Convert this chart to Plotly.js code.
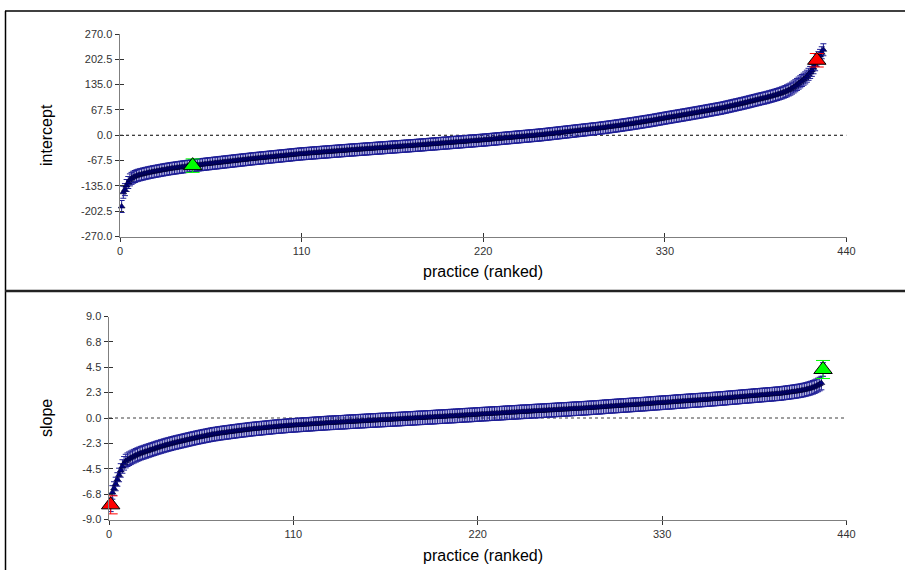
<!DOCTYPE html>
<html>
<head>
<meta charset="utf-8">
<script src="https://cdn.plot.ly/plotly-3.0.1.min.js"></script>
<style>
  html, body { margin: 0; padding: 0; background: #ffffff; }
  #chart { width: 905px; height: 570px; }
</style>
</head>
<body>
<div id="chart"></div>
<script>
// Ranked practice-level residuals (caterpillar plot), ranks 1..426.
const interceptResid = [
  -190, -152, -145, -134, -126, -119, -115, -112, -110, -108,
  -106.7, -105.5, -104.4, -103.3, -102.2, -101.2, -100.2, -99.2, -98.4, -97.5,
  -96.6, -95.8, -95.0, -94.2, -93.3, -92.6, -91.8, -91.0, -90.3, -89.5,
  -88.9, -88.2, -87.6, -87.0, -86.3, -85.7, -85.1, -84.5, -83.9, -83.3,
  -82.7, -82.2, -81.6, -81.0,
  -80.4, -80.1, -79.4, -79.0, -78.6, -77.9, -77.6, -77.0, -76.4, -76.1,
  -75.5, -75.1, -74.4, -74.0, -73.6, -73.0, -72.4, -72.1, -71.5, -71.0,
  -70.6, -69.9, -69.5, -69.1, -68.4, -68.0, -67.6, -66.9, -66.5, -66.0,
  -65.6, -65.0, -64.5, -64.1, -63.4, -63.0,
  -62.6, -62.1, -61.7, -61.2, -60.8, -60.3, -59.9, -59.4, -59.0, -58.5,
  -58.1, -57.7, -57.2, -56.8, -56.3, -55.9, -55.4, -55.0, -54.6, -54.1,
  -53.7, -53.2, -52.8, -52.3, -51.8, -51.4, -50.9, -50.5, -50.0,
  -49.7, -49.3, -49.0, -48.6, -48.3, -48.0, -47.6, -47.3, -46.9, -46.6,
  -46.3, -45.9, -45.6, -45.2, -44.9, -44.6, -44.2, -43.9, -43.5, -43.2,
  -42.9, -42.5, -42.2, -41.8, -41.5, -41.2, -40.8, -40.5, -40.2, -39.8, -39.5,
  -39.2, -38.9, -38.6, -38.2, -37.9, -37.6, -37.3, -37.0, -36.6, -36.3,
  -36.0, -35.7, -35.4, -35.1, -34.7, -34.4, -34.1, -33.8, -33.5, -33.1,
  -32.8, -32.5, -32.2, -31.9, -31.6, -31.2, -30.9, -30.6, -30.3, -30.0,
  -29.6, -29.3, -29.0, -28.7, -28.4, -28.0, -27.7, -27.4, -27.1, -26.8,
  -26.4, -26.1, -25.8, -25.5, -25.0,
  -24.7, -24.3, -24.0, -23.6, -23.3,
  -23.0, -22.6, -22.3, -21.9, -21.6, -21.2, -20.9, -20.6, -20.2, -19.9,
  -19.5, -19.2, -18.8, -18.5, -18.2, -17.8, -17.5, -17.1, -16.8, -16.4,
  -16.1, -15.8, -15.4, -15.1, -14.7, -14.4, -14.0, -13.7, -13.3, -13.0,
  -12.6, -12.2, -11.8, -11.4, -11.0, -10.6, -10.2, -9.8, -9.4, -9.0,
  -8.6, -8.2, -7.8, -7.4, -7.0, -6.6, -6.2, -5.8, -5.4, -5.0,
  -4.6, -4.2, -3.8, -3.4, -3.0, -2.6, -2.2, -1.8, -1.4, -1.0,
  -0.6, -0.2, 0.2, 0.6, 1.0,
  1.5, 2.0, 2.5, 3.0, 3.5, 4.0, 4.5, 5.0, 5.5, 6.0,
  6.5, 7.0, 7.5, 8.0, 8.5, 9.0, 9.5, 10.0, 10.5, 11.0,
  11.5, 12.0, 12.5, 13.0, 13.5, 14.0, 14.5, 15.0, 15.5, 16.0,
  16.5, 17.0, 17.5, 18.0, 18.5, 19.0,
  19.6, 20.2, 20.8, 21.4, 22.0, 22.6, 23.2, 23.8, 24.4, 25.0,
  25.6, 26.3, 26.9, 27.6, 28.2, 28.9, 29.5, 30.2, 30.8, 31.5,
  32.2, 32.9, 33.6, 34.3, 35.0, 35.7, 36.4, 37.1, 37.8, 38.5,
  39.2, 40.0, 40.8, 41.6, 42.4, 43.2, 44.0, 44.8, 45.6,
  46.4, 47.1, 47.9, 48.6, 49.4, 50.1, 50.9, 51.6, 52.4, 53.1,
  53.9, 54.6, 55.4, 56.2, 56.9, 57.7, 58.5, 59.3, 60.0, 60.8,
  61.6, 62.4, 63.2, 64.0, 64.8, 65.6, 66.4, 67.2, 68.0, 68.8,
  69.6, 70.4, 71.2, 72.0,
  73.0, 74.0, 75.0, 76.0, 77.0, 78.0, 79.0, 80.0, 81.0, 82.0,
  83.0, 84.0, 85.0, 86.0, 87.1, 88.2, 89.3, 90.4, 91.5, 92.6,
  93.7, 94.8, 95.9, 97.0, 98.0, 99.0, 100.0,
  101.2, 102.4, 103.6, 104.8, 106.1, 107.4, 108.7, 110.1, 111.6, 113.1,
  114.8, 116.6, 118.6, 120.8, 123.0,
  125.8, 128.8, 132.0, 135.5, 139.0, 142.5, 146.0, 149.5, 153.0, 157.5,
  162.5, 167.5, 173.0, 180.0, 188.0, 200.0, 207.0, 213.0, 220.0, 228.0
];

const slopeResid = [
  -7.70, -6.60, -6.25, -5.85, -5.45, -5.05, -4.65, -4.30, -4.02, -3.82,
  -3.70, -3.61, -3.53, -3.45, -3.38, -3.31, -3.24, -3.18, -3.12, -3.07,
  -3.02, -2.97,
  -2.92, -2.87, -2.82, -2.77, -2.72, -2.67, -2.62, -2.58, -2.53, -2.49,
  -2.44, -2.40, -2.36, -2.32, -2.28, -2.24, -2.20, -2.17, -2.13, -2.10,
  -2.06, -2.03, -1.99, -1.96, -1.92, -1.89, -1.85, -1.82, -1.79, -1.75,
  -1.72, -1.69, -1.66, -1.63, -1.60, -1.57, -1.54, -1.51, -1.48, -1.45,
  -1.43, -1.41, -1.38, -1.36, -1.34, -1.32, -1.30, -1.28, -1.26, -1.24,
  -1.22, -1.20, -1.18, -1.16, -1.14, -1.12, -1.10, -1.08, -1.07, -1.05,
  -1.03, -1.01, -0.99, -0.98, -0.96, -0.95, -0.93, -0.92, -0.90, -0.89,
  -0.87, -0.86, -0.84, -0.83, -0.81, -0.80, -0.78, -0.77, -0.76, -0.74,
  -0.73, -0.72, -0.71, -0.69, -0.68,
  -0.67, -0.66, -0.65, -0.64, -0.63, -0.62, -0.61, -0.60, -0.59, -0.58,
  -0.57, -0.56, -0.55, -0.54, -0.53, -0.52, -0.51, -0.50, -0.49, -0.48,
  -0.47, -0.46, -0.45,
  -0.44, -0.43, -0.43, -0.42, -0.41, -0.40, -0.39, -0.38, -0.38, -0.37,
  -0.36, -0.35, -0.34, -0.33, -0.33, -0.32, -0.31, -0.30, -0.29, -0.28,
  -0.28, -0.27, -0.26, -0.25, -0.24, -0.23, -0.22, -0.22, -0.21, -0.20,
  -0.19, -0.18, -0.18, -0.17, -0.16, -0.15, -0.15, -0.14,
  -0.13, -0.12, -0.11, -0.10, -0.10, -0.09, -0.08, -0.07, -0.06, -0.05,
  -0.05, -0.04, -0.03, -0.02, -0.01, 0.00, 0.01, 0.01, 0.02, 0.03,
  0.04, 0.05, 0.06, 0.06, 0.07, 0.08, 0.09, 0.10, 0.11, 0.11,
  0.12, 0.13,
  0.14, 0.15, 0.16, 0.17, 0.17, 0.18, 0.19, 0.20, 0.21, 0.22,
  0.23, 0.24, 0.25, 0.26, 0.26, 0.27, 0.28, 0.29, 0.30, 0.31,
  0.32, 0.33, 0.34, 0.35, 0.35, 0.36, 0.37, 0.38,
  0.39, 0.40, 0.41, 0.41, 0.42, 0.43, 0.44, 0.45, 0.46, 0.47,
  0.48, 0.48, 0.49, 0.50, 0.51, 0.52, 0.53, 0.54, 0.55, 0.55,
  0.56, 0.57, 0.58, 0.59, 0.60, 0.61, 0.62, 0.62, 0.63, 0.64,
  0.65, 0.66, 0.67, 0.68, 0.69, 0.69, 0.70, 0.71, 0.72, 0.73,
  0.74, 0.75, 0.76, 0.76, 0.77, 0.78, 0.79, 0.80, 0.81, 0.82,
  0.83, 0.83, 0.84,
  0.85, 0.86, 0.87, 0.88, 0.89, 0.90, 0.91, 0.92, 0.93, 0.94,
  0.95, 0.96, 0.97, 0.98, 1.00, 1.01, 1.02, 1.03, 1.04, 1.05,
  1.06, 1.07, 1.08, 1.09, 1.10, 1.11, 1.12, 1.13, 1.14, 1.15,
  1.16, 1.17, 1.18, 1.19, 1.20, 1.21, 1.22, 1.23, 1.24, 1.25,
  1.26, 1.28,
  1.29, 1.30, 1.31, 1.32, 1.33, 1.34, 1.35, 1.36, 1.37, 1.38,
  1.39, 1.40, 1.41, 1.42, 1.44, 1.45, 1.46, 1.47, 1.48, 1.49,
  1.50, 1.51, 1.52, 1.53, 1.54, 1.55, 1.56, 1.57, 1.58, 1.59,
  1.60, 1.61, 1.62, 1.63, 1.64, 1.66, 1.67, 1.68, 1.69, 1.70,
  1.71, 1.73,
  1.74, 1.75, 1.76, 1.78, 1.79, 1.80, 1.81, 1.83, 1.84, 1.85,
  1.86, 1.88, 1.89, 1.90, 1.91, 1.93, 1.94, 1.95, 1.96, 1.98,
  1.99, 2.00, 2.01, 2.03, 2.04, 2.05, 2.06, 2.08, 2.09, 2.10,
  2.11, 2.13, 2.14, 2.15, 2.16, 2.18,
  2.20, 2.22, 2.24, 2.26, 2.28, 2.30, 2.32, 2.34, 2.36, 2.39,
  2.41, 2.44, 2.47, 2.50,
  2.54, 2.58, 2.62, 2.67, 2.72, 2.78, 2.85, 2.93, 3.01, 3.10,
  4.30
];

// Half-widths of the comparative intervals: [typical practice, highlighted practice]
const interceptErr = [16, 18];
const slopeErr = [0.6, 0.8];

// Ranks of the two highlighted practices in each panel: [green, red]
const interceptMarked = [44, 422];
const slopeMarked = [426, 1];

const xTicks = [0, 110, 220, 330, 440];
const interceptTicks = [-270, -202.5, -135, -67.5, 0, 67.5, 135, 202.5, 270];
const interceptTickText = ['-270.0', '-202.5', '-135.0', '-67.5', '0.0', '67.5', '135.0', '202.5', '270.0'];
const slopeTicks = [-9, -6.75, -4.5, -2.25, 0, 2.25, 4.5, 6.75, 9];
const slopeTickText = ['-9.0', '-6.8', '-4.5', '-2.3', '0.0', '2.3', '4.5', '6.8', '9.0'];

const W = 905, H = 570;
const px = v => v / W;
const py = v => 1 - v / H;

const ranksOf = arr => arr.map((_, i) => i + 1);

function caterpillar(values, err, xa, ya) {
  return {
    type: 'scatter', mode: 'markers', cliponaxis: false,
    x: ranksOf(values), y: values, xaxis: xa, yaxis: ya,
    marker: { symbol: 'triangle-up', size: 6, color: '#000080', line: { color: '#000033', width: 0.6 } },
    error_y: { type: 'constant', value: err, visible: true, color: '#1e1e96', thickness: 1, width: 3 },
    hoverinfo: 'skip', showlegend: false
  };
}

function marked(values, err, rank, color, xa, ya) {
  return {
    type: 'scatter', mode: 'markers', cliponaxis: false,
    x: [rank], y: [values[rank - 1]], xaxis: xa, yaxis: ya,
    marker: { symbol: 'triangle-up', size: 16, color: color, line: { color: '#000000', width: 1 } },
    error_y: { type: 'constant', value: err, visible: true, color: color, thickness: 1, width: 7 },
    hoverinfo: 'skip', showlegend: false
  };
}

const tickFont = { family: 'Liberation Sans, Arial, sans-serif', size: 11, color: '#333333' };

function baseX(domain, anchor) {
  return {
    domain: domain, anchor: anchor, range: [0, 440], fixedrange: true,
    tickvals: xTicks, ticktext: xTicks.map(String), tickfont: tickFont,
    ticks: 'outside', ticklen: 4, tickcolor: '#333333', tickwidth: 1,
    showline: true, linecolor: '#7f7f7f', linewidth: 1.5,
    showgrid: false, zeroline: false
  };
}
function baseY(domain, anchor, range, vals, text) {
  return {
    domain: domain, anchor: anchor, range: range, fixedrange: true,
    tickvals: vals, ticktext: text, tickfont: tickFont,
    ticks: 'outside', ticklen: 4, tickcolor: '#333333', tickwidth: 1,
    showline: true, linecolor: '#7f7f7f', linewidth: 1.5,
    showgrid: false, zeroline: false
  };
}
// Companion axes that draw the inner half of each tick mark
function innerX(overlay, domain, anchor) {
  return {
    overlaying: overlay, domain: domain, anchor: anchor, range: [0, 440], fixedrange: true,
    tickvals: xTicks, showticklabels: false, ticks: 'inside', ticklen: 4,
    tickcolor: '#333333', showline: false, showgrid: false, zeroline: false
  };
}
function innerY(overlay, domain, anchor, range, vals) {
  return {
    overlaying: overlay, domain: domain, anchor: anchor, range: range, fixedrange: true,
    tickvals: vals, showticklabels: false, ticks: 'inside', ticklen: 4,
    tickcolor: '#333333', showline: false, showgrid: false, zeroline: false
  };
}

const topXDom = [px(120), px(846.5)];
const topYDom = [py(236.5), py(34)];
const botXDom = [px(109), px(846.5)];
const botYDom = [py(519.5), py(316.5)];

const traces = [
  caterpillar(interceptResid, interceptErr[0], 'x', 'y'),
  marked(interceptResid, interceptErr[1], interceptMarked[0], '#00ff00', 'x', 'y'),
  marked(interceptResid, interceptErr[1], interceptMarked[1], '#ff0000', 'x', 'y'),
  caterpillar(slopeResid, slopeErr[0], 'x2', 'y2'),
  marked(slopeResid, slopeErr[1], slopeMarked[1], '#ff0000', 'x2', 'y2'),
  marked(slopeResid, slopeErr[1], slopeMarked[0], '#00ff00', 'x2', 'y2'),
  { type: 'scatter', x: [], y: [], xaxis: 'x3', yaxis: 'y3', showlegend: false, hoverinfo: 'skip' },
  { type: 'scatter', x: [], y: [], xaxis: 'x4', yaxis: 'y4', showlegend: false, hoverinfo: 'skip' }
];

const titleFont = { family: 'Liberation Sans, Arial, sans-serif', size: 16, color: '#000000' };

const layout = {
  width: W, height: H,
  margin: { l: 0, r: 0, t: 0, b: 0, pad: 0 },
  paper_bgcolor: '#ffffff', plot_bgcolor: 'rgba(0,0,0,0)',
  showlegend: false,
  xaxis: baseX(topXDom, 'y'),
  yaxis: baseY(topYDom, 'x', [-270, 270], interceptTicks, interceptTickText),
  xaxis2: baseX(botXDom, 'y2'),
  yaxis2: baseY(botYDom, 'x2', [-9, 9], slopeTicks, slopeTickText),
  xaxis3: innerX('x', topXDom, 'y3'),
  yaxis3: innerY('y', topYDom, 'x3', [-270, 270], interceptTicks),
  xaxis4: innerX('x2', botXDom, 'y4'),
  yaxis4: innerY('y2', botYDom, 'x4', [-9, 9], slopeTicks),
  shapes: [
    // zero reference lines
    { type: 'line', xref: 'x', yref: 'y', x0: 0, x1: 440, y0: 0, y1: 0, layer: 'below',
      line: { color: '#000000', width: 1, dash: '3px,3px' } },
    { type: 'line', xref: 'x2', yref: 'y2', x0: 0, x1: 440, y0: 0, y1: 0, layer: 'below',
      line: { color: '#808080', width: 1.5, dash: '3px,3px' } },
    // panel frames
    { type: 'line', xref: 'paper', yref: 'paper', x0: px(5), x1: 1, y0: py(11), y1: py(11),
      line: { color: '#000000', width: 1.5 } },
    { type: 'line', xref: 'paper', yref: 'paper', x0: px(5.5), x1: px(5.5), y0: py(11), y1: 0,
      line: { color: '#000000', width: 1.5 } },
    { type: 'line', xref: 'paper', yref: 'paper', x0: px(5), x1: 1, y0: py(291), y1: py(291),
      line: { color: '#222222', width: 2.5 } }
  ],
  annotations: [
    { text: 'intercept', xref: 'paper', yref: 'paper', x: px(47), y: py(135), textangle: -90,
      showarrow: false, font: titleFont, xanchor: 'center', yanchor: 'middle' },
    { text: 'practice (ranked)', xref: 'paper', yref: 'paper', x: px(483), y: py(272),
      showarrow: false, font: titleFont, xanchor: 'center', yanchor: 'middle' },
    { text: 'slope', xref: 'paper', yref: 'paper', x: px(47), y: py(418), textangle: -90,
      showarrow: false, font: titleFont, xanchor: 'center', yanchor: 'middle' },
    { text: 'practice (ranked)', xref: 'paper', yref: 'paper', x: px(483), y: py(555),
      showarrow: false, font: titleFont, xanchor: 'center', yanchor: 'middle' }
  ]
};

Plotly.newPlot('chart', traces, layout, { displayModeBar: false, staticPlot: true });
</script>
</body>
</html>
